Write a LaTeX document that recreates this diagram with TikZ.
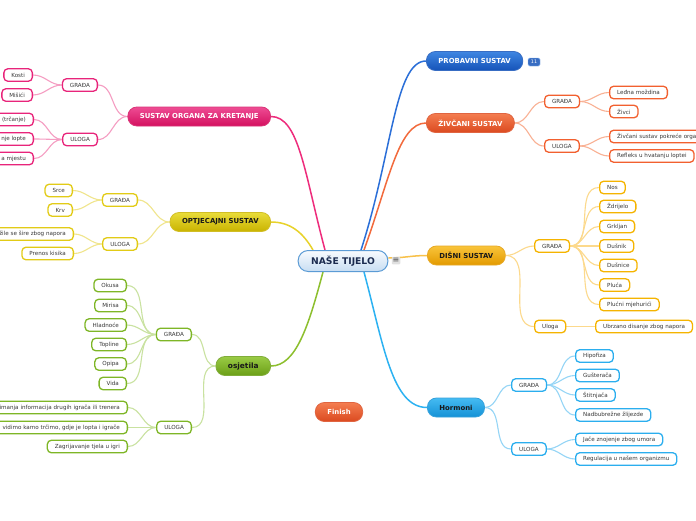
\documentclass[tikz,border=0pt]{standalone}
\usepackage{fontspec}
\setmainfont{DejaVu Sans}
\usetikzlibrary{backgrounds,calc}
\definecolor{txt}{HTML}{383838}
\definecolor{pinkT}{HTML}{EE4C94}\definecolor{pinkB}{HTML}{D4105F}\definecolor{pinkE}{HTML}{EE2C7C}\definecolor{pinkL}{HTML}{E8247A}\definecolor{pinkS}{HTML}{F59DC2}
\definecolor{yelT}{HTML}{E9DC3A}\definecolor{yelB}{HTML}{C9B300}\definecolor{yelE}{HTML}{E8D22A}\definecolor{yelL}{HTML}{E2CB16}\definecolor{yelS}{HTML}{F0E58C}
\definecolor{greT}{HTML}{9ACB45}\definecolor{greB}{HTML}{6B9F17}\definecolor{greE}{HTML}{8DBF2E}\definecolor{greL}{HTML}{7EB626}\definecolor{greS}{HTML}{C9E2A0}
\definecolor{bluT}{HTML}{3F86E2}\definecolor{bluB}{HTML}{1553B8}\definecolor{bluE}{HTML}{2B6FD8}
\definecolor{oraT}{HTML}{F47D50}\definecolor{oraB}{HTML}{DB4A20}\definecolor{oraE}{HTML}{F26A3C}\definecolor{oraL}{HTML}{F2602F}\definecolor{oraS}{HTML}{F9B194}
\definecolor{golT}{HTML}{F9C43A}\definecolor{golB}{HTML}{E39A00}\definecolor{golE}{HTML}{F8C14A}\definecolor{golL}{HTML}{F5B400}\definecolor{golS}{HTML}{FCD98C}
\definecolor{hbT}{HTML}{45BBF2}\definecolor{hbB}{HTML}{1491D6}\definecolor{hbE}{HTML}{2CB2F2}\definecolor{hbL}{HTML}{2BAEEE}\definecolor{hbS}{HTML}{95D5F6}
\definecolor{cenT}{HTML}{F8FBFE}\definecolor{cenB}{HTML}{C7DDF2}\definecolor{cenD}{HTML}{5B9BD5}\definecolor{cenX}{HTML}{1B2B4F}
\tikzset{
  leaf/.style={draw=#1, line width=1.3pt, fill=white, rounded corners=4pt,
    font=\fontsize{5.6}{6.5}\selectfont, text=txt, inner xsep=7.5pt, inner ysep=0pt,
    minimum height=12.5pt},
  cutl/.style={text width=#1, align=right},
  cutr/.style={text width=#1, align=left},
  branch/.style n args={3}{top color=#1, bottom color=#2, draw=#2!85!white,
    text=#3, rounded corners=9pt, minimum height=19pt, inner xsep=12pt, inner ysep=0pt,
    line width=0.8pt, font=\fontsize{6.9}{8}\selectfont\bfseries},
  emain/.style={draw=#1, line width=1.5pt},
  esub/.style={draw=#1, line width=1.1pt},
}
\begin{document}
\begin{tikzpicture}[x=1pt,y=-1pt]
\useasboundingbox (0,0) rectangle (696,520);
% center
\node[top color=cenT, bottom color=cenB, draw=cenD, line width=1pt, rounded corners=10pt,
  minimum height=21pt, inner xsep=13pt, inner ysep=0pt, text=cenX,
  font=\fontsize{9.2}{10}\selectfont\bfseries] (c) at (343,261) {NAŠE TIJELO};
\node[fill=black!12, rounded corners=1pt, inner sep=0pt, minimum width=8.5pt, minimum height=7.5pt,
  text=black!70, font=\fontsize{8}{8}\selectfont] (icon) at (396,260.5) {≡};

% ---------- left: SUSTAV ORGANA ZA KRETANJE
\node[branch={pinkT}{pinkB}{white}, anchor=east] (S) at (271,116.5) {SUSTAV ORGANA ZA KRETANJE};
\node[leaf=pinkL, anchor=east] (Sg) at (98,85) {GRAĐA};
\node[leaf=pinkL, anchor=east] (Su) at (98,139.5) {ULOGA};
\node[leaf=pinkL, anchor=east] (S1) at (33,75) {Kosti};
\node[leaf=pinkL, anchor=east] (S2) at (33,95) {Mišići};
\node[leaf=pinkL, anchor=east, cutl=60pt] (S3) at (34,119.5) {(trčanje)};
\node[leaf=pinkL, anchor=east, cutl=60pt] (S4) at (34,139) {nje lopte};
\node[leaf=pinkL, anchor=east, cutl=60pt] (S5) at (34,158.5) {a mjestu};

% ---------- left: OPTJECAJNI SUSTAV
\node[branch={yelT}{yelB}{black!90}, anchor=east] (O) at (271,222) {OPTJECAJNI SUSTAV};
\node[leaf=yelL, anchor=east] (Og) at (138,200) {GRAĐA};
\node[leaf=yelL, anchor=east] (Ou) at (138,244) {ULOGA};
\node[leaf=yelL, anchor=east] (O1) at (73,190.5) {Srce};
\node[leaf=yelL, anchor=east] (O2) at (73,210) {Krv};
\node[leaf=yelL, anchor=east, cutl=80pt] (O3) at (74,234) {žile se šire zbog napora};
\node[leaf=yelL, anchor=east] (O4) at (74,253.5) {Prenos kisika};

% ---------- left: osjetila
\node[branch={greT}{greB}{black!90}, anchor=east, font=\fontsize{7.4}{8}\selectfont\bfseries] (J) at (271,366) {osjetila};
\node[leaf=greL, anchor=east] (Jg) at (192,334.5) {GRAĐA};
\node[leaf=greL, anchor=east] (Ju) at (192,427.5) {ULOGA};
\node[leaf=greL, anchor=east] (J1) at (127,285.5) {Okusa};
\node[leaf=greL, anchor=east] (J2) at (127,305.5) {Mirisa};
\node[leaf=greL, anchor=east] (J3) at (127,325) {Hladnoće};
\node[leaf=greL, anchor=east] (J4) at (127,344.5) {Topline};
\node[leaf=greL, anchor=east] (J5) at (127,364) {Opipa};
\node[leaf=greL, anchor=east] (J6) at (127,383.5) {Vida};
\node[leaf=greL, anchor=east, cutl=130pt] (J7) at (128,407.5) {imanja informacija drugih igrača ili trenera};
\node[leaf=greL, anchor=east, cutl=130pt] (J8) at (128,427.5) {vidimo kamo trčimo, gdje je lopta i igrače};
\node[leaf=greL, anchor=east] (J9) at (128,446.5) {Zagrijavanje tjela u igri};

% ---------- right: PROBAVNI SUSTAV
\node[branch={bluT}{bluB}{white}, anchor=west] (P) at (426,61) {PROBAVNI SUSTAV};
\node[fill=bluB!85!white, draw=bluT!60!white, line width=0.4pt, rounded corners=1.5pt, inner sep=0pt,
  minimum width=12pt, minimum height=8pt, text=white, font=\fontsize{4.8}{5}\selectfont] (badge) at (534,62) {11};

% ---------- right: ŽIVČANI SUSTAV
\node[branch={oraT}{oraB}{white}, anchor=west] (Z) at (426,123) {ŽIVČANI SUSTAV};
\node[leaf=oraL, anchor=west] (Zg) at (544,101.5) {GRAĐA};
\node[leaf=oraL, anchor=west] (Zu) at (544,146) {ULOGA};
\node[leaf=oraL, anchor=west] (Z1) at (609,92.5) {Leđna moždina};
\node[leaf=oraL, anchor=west] (Z2) at (609,111.5) {Živci};
\node[leaf=oraL, anchor=west, cutr=90pt] (Z3) at (609,136.5) {Živčani sustav pokreće orga};
\node[leaf=oraL, anchor=west] (Z4) at (609,156) {Refleks u hvatanju loptei};

% ---------- right: DIŠNI SUSTAV
\node[branch={golT}{golB}{black!90}, anchor=west] (D) at (427,255.5) {DIŠNI SUSTAV};
\node[leaf=golL, anchor=west] (Dg) at (534,246) {GRAĐA};
\node[leaf=golL, anchor=west] (Du) at (534,326.5) {Uloga};
\node[leaf=golL, anchor=west] (D1) at (599,187.5) {Nos};
\node[leaf=golL, anchor=west] (D2) at (599,206.5) {Ždrijelo};
\node[leaf=golL, anchor=west] (D3) at (599,226.5) {Grkljan};
\node[leaf=golL, anchor=west] (D4) at (599,246) {Dušnik};
\node[leaf=golL, anchor=west] (D5) at (599,265.5) {Dušnice};
\node[leaf=golL, anchor=west] (D6) at (599,285) {Pluća};
\node[leaf=golL, anchor=west] (D7) at (599,304.5) {Plućni mjehurići};
\node[leaf=golL, anchor=west] (D8) at (595,326.5) {Ubrzano disanje zbog napora};

% ---------- right: Hormoni
\node[branch={hbT}{hbB}{black!90}, anchor=west] (H) at (427,407.5) {Hormoni};
\node[leaf=hbL, anchor=west] (Hg) at (511,385) {GRAĐA};
\node[leaf=hbL, anchor=west] (Hu) at (511,449) {ULOGA};
\node[leaf=hbL, anchor=west] (H1) at (575,356) {Hipofiza};
\node[leaf=hbL, anchor=west] (H2) at (575,375.5) {Gušterača};
\node[leaf=hbL, anchor=west] (H3) at (575,395) {Štitnjača};
\node[leaf=hbL, anchor=west] (H4) at (575,415) {Nadbubrežne žlijezde};
\node[leaf=hbL, anchor=west] (H5) at (575,439.5) {Jače znojenje zbog umora};
\node[leaf=hbL, anchor=west] (H6) at (575,459) {Regulacija u našem organizmu};

% ---------- Finish
\node[branch={oraT}{oraB}{white}] (F) at (339,412) {Finish};

\begin{scope}[on background layer]
\fill[white] (0,0) rectangle (696,520);
% main connectors
\draw[emain=pinkE] ($(c.north)+(-18,0)$) to[out=105,in=0,out looseness=1.4,in looseness=0.5] (S.east);
\draw[emain=yelE] ($(c.north)+(-30,0)$) to[out=120,in=0] (O.east);
\draw[emain=greE] ($(c.south)+(-20,0)$) to[out=-105,in=0,out looseness=1.3,in looseness=0.6] (J.east);
\draw[emain=bluE] ($(c.north)+(18,0)$) to[out=72,in=180,out looseness=1.3,in looseness=0.4] (P.west);
\draw[emain=oraE] ($(c.north)+(21,0)$) to[out=70,in=180,out looseness=1.3,in looseness=0.5] (Z.west);
\draw[emain=golE] ($(c.east)+(0,-3)$) to[out=0,in=180] (D.west);
\draw[emain=hbE] ($(c.south)+(21,0)$) to[out=-75,in=180,out looseness=1.3,in looseness=0.6] (H.west);
% left sub connectors
\foreach \a in {Sg,Su} \draw[esub=pinkS] (S.west) to[out=180,in=0] (\a.east);
\foreach \a in {S1,S2} \draw[esub=pinkS] (Sg.west) to[out=180,in=0] (\a.east);
\foreach \a in {S3,S4,S5} \draw[esub=pinkS] (Su.west) to[out=180,in=0] (\a.east);
\foreach \a in {Og,Ou} \draw[esub=yelS] (O.west) to[out=180,in=0] (\a.east);
\foreach \a in {O1,O2} \draw[esub=yelS] (Og.west) to[out=180,in=0] (\a.east);
\foreach \a in {O3,O4} \draw[esub=yelS] (Ou.west) to[out=180,in=0] (\a.east);
\foreach \a in {Jg,Ju} \draw[esub=greS] (J.west) to[out=180,in=0] (\a.east);
\foreach \a in {J1,J2,J3,J4,J5,J6} \draw[esub=greS] (Jg.west) to[out=180,in=0] (\a.east);
\foreach \a in {J7,J8,J9} \draw[esub=greS] (Ju.west) to[out=180,in=0] (\a.east);
% right sub connectors
\foreach \a in {Zg,Zu} \draw[esub=oraS] (Z.east) to[out=0,in=180] (\a.west);
\foreach \a in {Z1,Z2} \draw[esub=oraS] (Zg.east) to[out=0,in=180] (\a.west);
\foreach \a in {Z3,Z4} \draw[esub=oraS] (Zu.east) to[out=0,in=180] (\a.west);
\foreach \a in {Dg,Du} \draw[esub=golS] (D.east) to[out=0,in=180] (\a.west);
\foreach \a in {D1,D2,D3,D4,D5,D6,D7} \draw[esub=golS] (Dg.east) to[out=0,in=180] (\a.west);
\draw[esub=golS] (Du.east) -- (D8.west);
\foreach \a in {Hg,Hu} \draw[esub=hbS] (H.east) to[out=0,in=180] (\a.west);
\foreach \a in {H1,H2,H3,H4} \draw[esub=hbS] (Hg.east) to[out=0,in=180] (\a.west);
\foreach \a in {H5,H6} \draw[esub=hbS] (Hu.east) to[out=0,in=180] (\a.west);
\end{scope}
\end{tikzpicture}
\end{document}
